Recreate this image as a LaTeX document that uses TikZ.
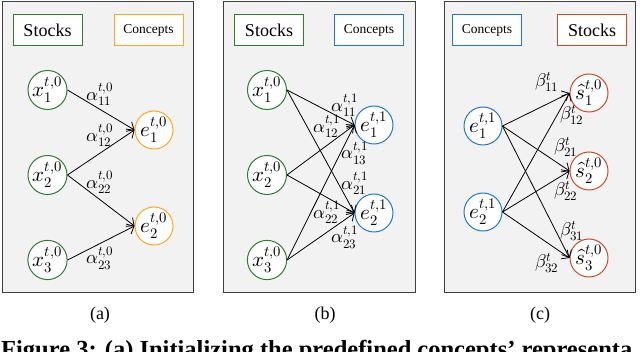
\documentclass[tikz,border=0pt]{standalone}
\usepackage{fontspec}
\usepackage{unicode-math}
\setmainfont{Liberation Serif}
\setmathfont{Latin Modern Math}
\usetikzlibrary{arrows.meta,positioning}
\definecolor{stkgreen}{RGB}{46,125,50}
\definecolor{cptorange}{RGB}{255,168,30}
\definecolor{cptblue}{RGB}{30,120,215}
\definecolor{stkred}{RGB}{205,75,35}
\definecolor{panelgray}{RGB}{242,242,242}
\definecolor{panelframe}{RGB}{64,64,64}

\begin{document}
\begin{tikzpicture}[x=1pt, y=-1pt,
  panel/.style={draw=panelframe, fill=panelgray, line width=0.8pt},
  tagbox/.style={draw=#1, fill=white, line width=1pt, minimum width=69pt, minimum height=31pt, inner sep=0pt},
  vert/.style={circle, draw=#1, fill=white, line width=1pt, minimum size=38pt, inner sep=0pt, font=\fontsize{21}{23}\selectfont},
  link/.style={-{Straight Barb[length=6pt,width=11pt]}, line width=0.8pt},
  wlab/.style={inner sep=0pt, font=\fontsize{18.5}{20}\selectfont},
  bigtxt/.style={font=\fontsize{18}{20}\selectfont},
  smalltxt/.style={font=\fontsize{13.5}{15}\selectfont}]
  \useasboundingbox (0,0) rectangle (640,352);
  \clip (0,0) rectangle (640,352);
  % panels
  \draw[panel] (2,1) rectangle (193,292);
  \draw[panel] (223,1) rectangle (415,292);
  \draw[panel] (444,1) rectangle (635,292);
  % (a)
  \node[tagbox=stkgreen, bigtxt] (stka) at (47.5,30.5) {Stocks};
  \node[tagbox=cptorange, smalltxt] (cpta) at (148.5,30.5) {Concepts};
  \node[vert=stkgreen] (xa1) at (47.5,90) {$x_1^{t,0}$};
  \node[vert=stkgreen] (xa2) at (47.5,175) {$x_2^{t,0}$};
  \node[vert=stkgreen] (xa3) at (47.5,260) {$x_3^{t,0}$};
  \node[vert=cptorange] (ea1) at (154,130) {$e_1^{t,0}$};
  \node[vert=cptorange] (ea2) at (154,226) {$e_2^{t,0}$};
  \draw[link] (xa1.east) -- (ea1.west);
  \draw[link] (xa2.east) -- (ea1.west);
  \draw[link] (xa2.east) -- (ea2.west);
  \draw[link] (xa3.east) -- (ea2.west);
  \node[wlab] (la11) at (100,94) {$\alpha_{11}^{t,0}$};
  \node[wlab] (la12) at (100,135) {$\alpha_{12}^{t,0}$};
  \node[wlab] (la22) at (100,182) {$\alpha_{22}^{t,0}$};
  \node[wlab] (la23) at (100,258) {$\alpha_{23}^{t,0}$};
  % (b)
  \node[tagbox=stkgreen, bigtxt] (stkb) at (269,30.5) {Stocks};
  \node[tagbox=cptblue, smalltxt] (cptb) at (369,30.5) {Concepts};
  \node[vert=stkgreen] (xb1) at (267,90) {$x_1^{t,0}$};
  \node[vert=stkgreen] (xb2) at (267,175) {$x_2^{t,0}$};
  \node[vert=stkgreen] (xb3) at (267,260) {$x_3^{t,0}$};
  \node[vert=cptblue] (eb1) at (374,125) {$e_1^{t,1}$};
  \node[vert=cptblue] (eb2) at (374,213) {$e_2^{t,1}$};
  \foreach \i in {1,2,3}
    \foreach \j in {1,2}
      \draw[link] (xb\i.east) -- (eb\j.west);
  \node[wlab] (lb11) at (345,105) {$\alpha_{11}^{t,1}$};
  \node[wlab] (lb12) at (327,126) {$\alpha_{12}^{t,1}$};
  \node[wlab] (lb13) at (355,153) {$\alpha_{13}^{t,1}$};
  \node[wlab] (lb21) at (355,183) {$\alpha_{21}^{t,1}$};
  \node[wlab] (lb22) at (327,212) {$\alpha_{22}^{t,1}$};
  \node[wlab] (lb23) at (345,237) {$\alpha_{23}^{t,1}$};
  % (c)
  \node[tagbox=cptblue, smalltxt] (cptc) at (487,30.5) {Concepts};
  \node[tagbox=stkred, bigtxt] (stkc) at (592,30.5) {Stocks};
  \node[vert=cptblue] (ec1) at (483,126) {$e_1^{t,1}$};
  \node[vert=cptblue] (ec2) at (483,212) {$e_2^{t,1}$};
  \node[vert=stkred] (sc1) at (589,93) {$\hat{s}_1^{t,0}$};
  \node[vert=stkred] (sc2) at (589,171) {$\hat{s}_2^{t,0}$};
  \node[vert=stkred] (sc3) at (589,258) {$\hat{s}_3^{t,0}$};
  \foreach \i in {1,2}
    \foreach \j in {1,2,3}
      \draw[link] (ec\i.east) -- (sc\j.west);
  \node[wlab] (lc11) at (547,82) {$\beta_{11}^{t}$};
  \node[wlab] (lc12) at (572,115) {$\beta_{12}^{t}$};
  \node[wlab] (lc21) at (566,147) {$\beta_{21}^{t}$};
  \node[wlab] (lc22) at (566,191) {$\beta_{22}^{t}$};
  \node[wlab] (lc31) at (572,231) {$\beta_{31}^{t}$};
  \node[wlab] (lc32) at (547,263) {$\beta_{32}^{t}$};
  % sub-captions
  \node[bigtxt] (capa) at (100,315) {(a)};
  \node[bigtxt] (capb) at (325,315) {(b)};
  \node[bigtxt] (capc) at (540,315) {(c)};
  \node[anchor=base west, inner sep=0pt, font=\fontsize{24.5}{26}\selectfont\bfseries] (figcap) at (1,358) {Figure 3: (a) Initializing the predefined concepts' representa};
\end{tikzpicture}
\end{document}
